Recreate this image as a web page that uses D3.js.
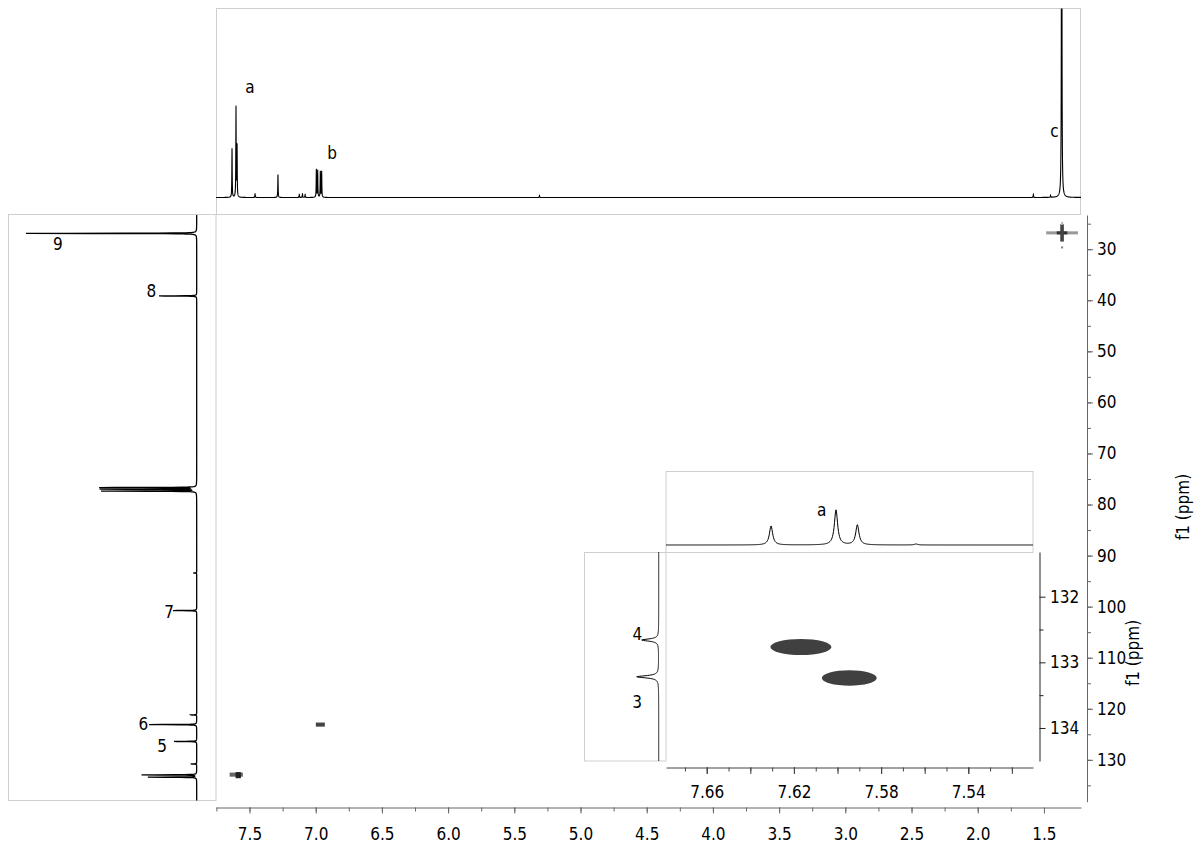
<!DOCTYPE html>
<html>
<head>
<meta charset="utf-8">
<script src="https://cdn.jsdelivr.net/npm/d3@7"></script>
<style>
  body { margin: 0; background: #fff; }
  svg { display: block; font-family: "DejaVu Sans Condensed", "DejaVu Sans", sans-serif; font-size: 17px; }
</style>
</head>
<body>
<svg id="chart" width="1204" height="848"></svg>
<script>
// 1H projection (top trace): shift in ppm, height
const protonShift  = [7.632, 7.602, 7.594, 7.458, 7.285, 7.124, 7.100, 7.080, 6.995, 6.985, 6.965, 6.955, 5.31, 1.58, 1.45, 1.366];
const protonHeight = [49, 90, 51, 4, 23, 3, 4, 3, 28, 27, 26, 26, 2, 3, 2, 700];

// 13C projection (left trace)
const carbonShift  = [26.9, 39.15, 76.68, 77.0, 77.38, 93.4, 100.77, 121.2, 123.1, 126.4, 130.8, 132.95, 133.4];
const carbonHeight = [100, 22.1, 56.6, 56, 55.6, 2, 13.9, 3.5, 27.9, 13.3, 3.5, 32.2, 28.5];

// main 2D correlations, drawn as blocks (1H ppm, 13C ppm, half sizes, shade)
const crossH     = [1.363, 1.363, 1.363, 1.363, 1.363, 6.965, 7.600, 7.585];
const crossC     = [26.8, 26.8, 26.8, 24.95, 29.65, 123.1, 132.9, 133.0];
const crossHalfH = [0.12, 0.04, 0.0136, 0.008, 0.008, 0.034, 0.05, 0.02];
const crossHalfC = [0.3, 0.3, 1.7, 0.3, 0.2, 0.4, 0.4, 0.6];
const crossShade = ["#999", "#333", "#444", "#bbb", "#888", "#444", "#666", "#222"];

// inset: zoomed region
const insetHShift  = [7.6305, 7.6007, 7.5909, 7.564];
const insetHHeight = [19, 35, 20, 1];
const insetCShift  = [132.66, 133.22];
const insetCHeight = [17, 22];
const insetCrossH  = [7.6168, 7.5946];
const insetCrossC  = [132.766, 133.238];
const insetCrossRH = [0.014, 0.0126];
const insetCrossRC = [0.122, 0.117];

// peak labels
const topLabels   = [["a", 7.496, 104.5], ["b", 6.877, 38.5], ["c", 1.421, 60.5]];
const sideLabels  = [["9", 30.23, 81.4], ["8", 39.34, 26.6], ["7", 102.2, 16.2], ["6", 124.2, 31.3], ["5", 128.5, 20.2]];
const insetTopLabels  = [["a", 7.6073, 29.3]];
const insetSideLabels = [["4", 132.66, 21.4], ["3", 133.69, 21.5]];

// ticks
const mainXTicks  = [7.5, 7.0, 6.5, 6.0, 5.5, 5.0, 4.5, 4.0, 3.5, 3.0, 2.5, 2.0, 1.5];
const mainYTicks  = [30, 40, 50, 60, 70, 80, 90, 100, 110, 120, 130];
const insetXTicks = [7.66, 7.62, 7.58, 7.54];
const insetYTicks = [132, 133, 134];

const svg = d3.select("#chart");

const x = d3.scaleLinear().domain([7.753, 1.22]).range([216, 1081]);
const y = d3.scaleLinear().domain([23.3, 138.2]).range([215, 801.7]);
const topY = d3.scaleLinear().domain([0, 189]).range([197.5, 8.5]);
const sideX = d3.scaleLinear().domain([0, 100]).range([196.7, 26]);

const ix = d3.scaleLinear().domain([7.6787, 7.5103]).range([666, 1033]);
const iy = d3.scaleLinear().domain([131.319, 134.503]).range([552, 761]);
const iTopY = d3.scaleLinear().domain([0, 70]).range([545, 475]);
const iSideX = d3.scaleLinear().domain([0, 70]).range([658.7, 588.7]);

const lor = (v, c, h, w) => h * w * w / ((v - c) * (v - c) + w * w);
function trace(shifts, heights, w) {
  return v => d3.sum(shifts, (c, i) => lor(v, c, heights[i], w));
}
function samples(scale, from, to, step, centers) {
  const pts = d3.range(from, to + 1e-6, step).map(p => scale.invert(p)).concat(centers);
  return pts.sort((a, b) => scale(a) - scale(b));
}

// ---- frames of the projections
const frame = svg.append("g").attr("fill", "none").attr("stroke", "#cfcfcf").attr("stroke-width", 1);
frame.append("rect").attr("x", 216.5).attr("y", 8.5).attr("width", 864).attr("height", 206);
frame.append("rect").attr("x", 8.5).attr("y", 214.5).attr("width", 207.5).attr("height", 586);

svg.append("clipPath").attr("id", "topclip")
  .append("rect").attr("x", 216).attr("y", 8.5).attr("width", 865).attr("height", 206);

// ---- top 1H trace
const fTop = trace(protonShift, protonHeight, 0.0015);
svg.append("path")
  .attr("clip-path", "url(#topclip)")
  .attr("fill", "none").attr("stroke", "#000").attr("stroke-width", 1.1)
  .attr("d", d3.line().x(v => x(v)).y(v => topY(fTop(v)))(samples(x, 216, 1081, 0.1, protonShift)));

svg.append("g").selectAll("text").data(topLabels).join("text")
  .attr("text-anchor", "middle")
  .attr("x", d => x(d[1])).attr("y", d => topY(d[2]))
  .text(d => d[0]);

// ---- left 13C trace
const fSide = trace(carbonShift, carbonHeight, 0.03);
svg.append("path")
  .attr("fill", "none").attr("stroke", "#000").attr("stroke-width", 1.3)
  .attr("d", d3.line().x(v => sideX(fSide(v))).y(v => y(v))(samples(y, 215, 800.5, 0.1, carbonShift)));

svg.append("g").selectAll("text").data(sideLabels).join("text")
  .attr("text-anchor", "middle")
  .attr("x", d => sideX(d[2])).attr("y", d => y(d[1]))
  .text(d => d[0]);

// ---- main 2D correlations
svg.append("g").selectAll("rect").data(crossH).join("rect")
  .attr("x", (d, i) => x(d + crossHalfH[i]))
  .attr("y", (d, i) => y(crossC[i] - crossHalfC[i]))
  .attr("width", (d, i) => x(d - crossHalfH[i]) - x(d + crossHalfH[i]))
  .attr("height", (d, i) => y(crossC[i] + crossHalfC[i]) - y(crossC[i] - crossHalfC[i]))
  .attr("fill", (d, i) => crossShade[i]);

// ---- main axes
function styleAxis(g, color) {
  g.attr("font-size", null).attr("font-family", null);
  g.selectAll("path, line").attr("stroke", color);
  g.selectAll("text").attr("fill", "#000");
}
const xMinor = d3.range(31, 6, -1).map(i => i / 4).filter(v => v < 7.753 && v > 1.22);
svg.append("g").attr("transform", "translate(0,807.5)")
  .call(d3.axisBottom(x).tickValues(xMinor).tickSize(4).tickSizeOuter(0).tickFormat(""))
  .call(g => styleAxis(g, "#666"));
svg.append("g").attr("transform", "translate(0,807.5)")
  .call(d3.axisBottom(x).tickValues(mainXTicks).tickSize(6).tickSizeOuter(0).tickPadding(14).tickFormat(d3.format(".1f")))
  .call(g => { styleAxis(g, "#666"); g.select(".domain").remove(); });

const yMinor = d3.range(25, 140, 5);
svg.append("g").attr("transform", "translate(1087,0)")
  .call(d3.axisRight(y).tickValues(yMinor).tickSize(4).tickSizeOuter(0).tickFormat(""))
  .call(g => styleAxis(g, "#666"));
svg.append("g").attr("transform", "translate(1087,0)")
  .call(d3.axisRight(y).tickValues(mainYTicks).tickSize(6).tickSizeOuter(0).tickPadding(4))
  .call(g => { styleAxis(g, "#666"); g.select(".domain").remove(); });

svg.append("text")
  .attr("transform", "translate(1189,507) rotate(-90)")
  .attr("text-anchor", "middle")
  .text("f1 (ppm)");

// ---- inset
const inset = svg.append("g");
inset.append("rect").attr("x", 666).attr("y", 471.5).attr("width", 367).attr("height", 81)
  .attr("fill", "#fff").attr("stroke", "#cfcfcf");
inset.append("rect").attr("x", 584.5).attr("y", 552.5).attr("width", 81.5).attr("height", 208.5)
  .attr("fill", "#fff").attr("stroke", "#cfcfcf");

const fITop = trace(insetHShift, insetHHeight, 0.0009);
inset.append("path")
  .attr("fill", "none").attr("stroke", "#000").attr("stroke-width", 1)
  .attr("d", d3.line().x(v => ix(v)).y(v => iTopY(fITop(v)))(samples(ix, 666, 1033, 0.5, insetHShift)));

const fISide = trace(insetCShift, insetCHeight, 0.02);
inset.append("path")
  .attr("fill", "none").attr("stroke", "#000").attr("stroke-width", 1)
  .attr("d", d3.line().x(v => iSideX(fISide(v))).y(v => iy(v))(samples(iy, 552, 761, 0.25, insetCShift)));

inset.append("g").selectAll("text").data(insetTopLabels).join("text")
  .attr("text-anchor", "middle")
  .attr("x", d => ix(d[1])).attr("y", d => iTopY(d[2]))
  .text(d => d[0]);
inset.append("g").selectAll("text").data(insetSideLabels).join("text")
  .attr("text-anchor", "middle")
  .attr("x", d => iSideX(d[2])).attr("y", d => iy(d[1]))
  .text(d => d[0]);

inset.append("g").selectAll("ellipse").data(insetCrossH).join("ellipse")
  .attr("cx", d => ix(d))
  .attr("cy", (d, i) => iy(insetCrossC[i]))
  .attr("rx", (d, i) => ix(d - insetCrossRH[i]) - ix(d))
  .attr("ry", (d, i) => iy(insetCrossC[i] + insetCrossRC[i]) - iy(insetCrossC[i]))
  .attr("fill", "#404040");

const ixMinor = d3.range(752, 768).map(i => i / 100);
const ixMajor = d3.range(376, 384).map(i => i / 50);
inset.append("g").attr("transform", "translate(0,767.5)")
  .call(d3.axisBottom(ix).tickValues(ixMinor).tickSize(4).tickSizeOuter(0).tickFormat(""))
  .call(g => styleAxis(g, "#444"));
inset.append("g").attr("transform", "translate(0,767.5)")
  .call(d3.axisBottom(ix).tickValues(ixMajor).tickSize(6.5).tickSizeOuter(0).tickFormat(""))
  .call(g => { styleAxis(g, "#444"); g.select(".domain").remove(); });
inset.append("g").attr("transform", "translate(0,767.5)")
  .call(d3.axisBottom(ix).tickValues(insetXTicks).tickSize(6.5).tickSizeOuter(0).tickPadding(12).tickFormat(d3.format(".2f")))
  .call(g => { styleAxis(g, "#444"); g.select(".domain").remove(); });

inset.append("g").attr("transform", "translate(1039.5,0)")
  .call(d3.axisRight(iy).tickValues([132.5, 133.5]).tickSize(4).tickSizeOuter(0).tickFormat(""))
  .call(g => styleAxis(g, "#222"));
inset.append("g").attr("transform", "translate(1039.5,0)")
  .call(d3.axisRight(iy).tickValues(insetYTicks).tickSize(6).tickSizeOuter(0).tickPadding(4.5).tickFormat(d3.format("d")))
  .call(g => { styleAxis(g, "#222"); g.select(".domain").remove(); });

inset.append("text")
  .attr("transform", "translate(1139,653) rotate(-90)")
  .attr("text-anchor", "middle")
  .text("f1 (ppm)");
</script>
</body>
</html>
